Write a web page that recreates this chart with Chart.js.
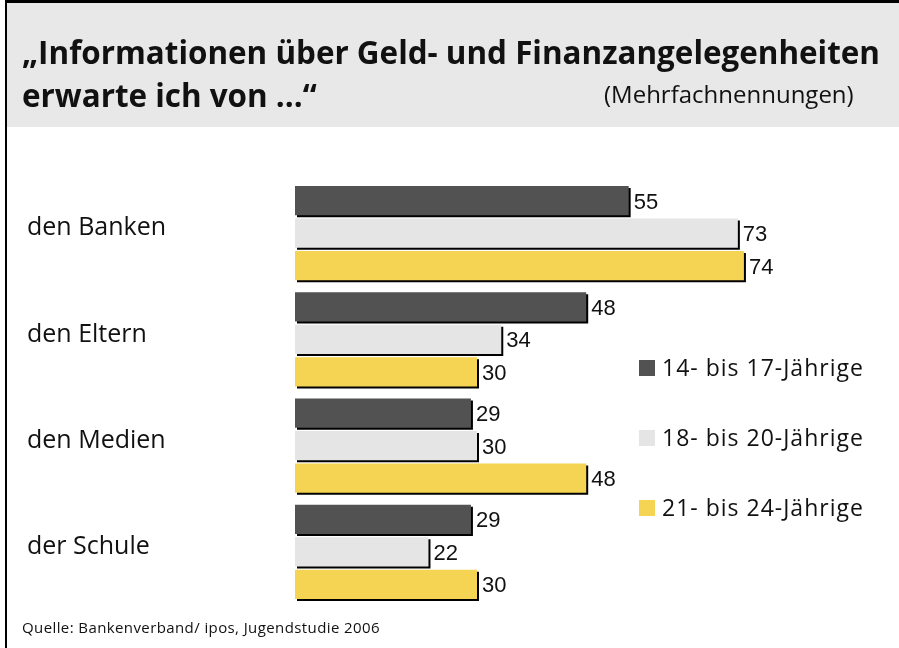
<!DOCTYPE html>
<html lang="de">
<head>
<meta charset="utf-8">
<title>Informationen über Geld- und Finanzangelegenheiten</title>
<script src="https://cdn.jsdelivr.net/npm/chart.js@4.4.1/dist/chart.umd.min.js"></script>
<style>
    html, body { margin: 0; padding: 0; background: #ffffff; }
    #wrap { position: relative; width: 899px; height: 648px; }
</style>
</head>
<body>
<div id="wrap"><canvas id="umfrageChart"></canvas></div>
<script>
// Antworten in Prozent
const kategorien = ['den Banken', 'den Eltern', 'den Medien', 'der Schule'];
const gruppen = ['14- bis 17-Jährige', '18- bis 20-Jährige', '21- bis 24-Jährige'];
const werte14bis17 = [55, 48, 29, 29];
const werte18bis20 = [73, 34, 30, 22];
const werte21bis24 = [74, 30, 48, 30];

const farben = ['#525252', '#e5e5e5', '#f4d452'];

const titelZeile1 = '\u201EInformationen über Geld- und Finanzangelegenheiten';
const titelZeile2 = 'erwarte ich von ...\u201C';
const untertitel = '(Mehrfachnennungen)';
const quelle = 'Quelle: Bankenverband/ ipos, Jugendstudie 2006';

// Rahmen, Kopfzeile und Quelle
const rahmenPlugin = {
    id: 'rahmen',
    beforeDraw(chart) {
        const ctx = chart.ctx;
        ctx.save();
        ctx.fillStyle = '#ffffff';
        ctx.fillRect(0, 0, chart.width, chart.height);
        ctx.fillStyle = '#e8e8e8';
        ctx.fillRect(7, 3, chart.width - 7, 124);
        ctx.fillStyle = '#000000';
        ctx.fillRect(5, 0, chart.width - 5, 3);
        ctx.fillRect(5, 0, 2, chart.height);

        // Titel etwas schmaler laufen lassen
        ctx.font = 'bold 32px "Open Sans"';
        const breite = ctx.measureText(titelZeile1).width;
        const sx = 858 / breite;
        ctx.fillStyle = '#111111';
        ctx.textBaseline = 'alphabetic';
        ctx.save();
        ctx.translate(22, 0);
        ctx.scale(sx, 1);
        ctx.fillText(titelZeile1, 0, 64);
        ctx.fillText(titelZeile2, 0, 107);
        ctx.restore();

        ctx.font = '24px "Open Sans"';
        ctx.fillText(untertitel, 604, 103);

        ctx.font = '15px "Open Sans"';
        ctx.letterSpacing = '0.4px';
        ctx.fillText(quelle, 22, 633);
        ctx.restore();
    }
};

// Schlagschatten unter den Balken
const schattenPlugin = {
    id: 'schatten',
    beforeDatasetsDraw(chart) {
        const ctx = chart.ctx;
        ctx.save();
        ctx.shadowColor = '#000000';
        ctx.shadowOffsetX = 2;
        ctx.shadowOffsetY = 2;
        ctx.shadowBlur = 0;
    },
    afterDatasetsDraw(chart) {
        const ctx = chart.ctx;
        ctx.restore();

        // Werte hinter die Balken schreiben
        ctx.save();
        ctx.font = '22px "Liberation Sans"';
        ctx.fillStyle = '#111111';
        ctx.textAlign = 'left';
        ctx.textBaseline = 'alphabetic';
        chart.data.datasets.forEach((ds, i) => {
            chart.getDatasetMeta(i).data.forEach((bar, j) => {
                ctx.fillText(String(ds.data[j]), bar.x + 5, bar.y + 8);
            });
        });
        ctx.restore();
    }
};

// Legende rechts neben den Balken
const legendePlugin = {
    id: 'legende',
    afterDraw(chart) {
        const ctx = chart.ctx;
        const oben = [360, 430, 500];
        ctx.save();
        ctx.font = '23px "Open Sans"';
        ctx.letterSpacing = '1px';
        ctx.textBaseline = 'alphabetic';
        chart.data.datasets.forEach((ds, i) => {
            ctx.fillStyle = ds.backgroundColor;
            ctx.fillRect(639, oben[i], 16, 16);
            ctx.fillStyle = '#111111';
            ctx.fillText(ds.label, 662, oben[i] + 16);
        });
        ctx.restore();
    }
};

function initChart() {
    const ctx = document.getElementById('umfrageChart').getContext('2d');
    const reihen = [werte14bis17, werte18bis20, werte21bis24];

    new Chart(ctx, {
        type: 'bar',
        data: {
            labels: kategorien,
            datasets: reihen.map((werte, i) => ({
                label: gruppen[i],
                data: werte,
                backgroundColor: farben[i],
                borderWidth: 0,
                categoryPercentage: 0.92,
                barPercentage: 0.9
            }))
        },
        options: {
            indexAxis: 'y',
            responsive: true,
            maintainAspectRatio: false,
            animation: false,
            layout: {
                padding: { top: 180, bottom: 43, left: 27, right: 58 }
            },
            plugins: {
                legend: { display: false },
                tooltip: { enabled: false }
            },
            scales: {
                x: {
                    display: false,
                    min: 0,
                    max: 90
                },
                y: {
                    grid: { display: false },
                    border: { display: false },
                    afterFit(scale) { scale.width = 268; },
                    ticks: {
                        crossAlign: 'far',
                        labelOffset: -5,
                        color: '#111111',
                        font: { family: 'Open Sans', size: 25 }
                    }
                }
            }
        },
        plugins: [rahmenPlugin, schattenPlugin, legendePlugin]
    });
}

document.addEventListener('DOMContentLoaded', initChart);
</script>
</body>
</html>
